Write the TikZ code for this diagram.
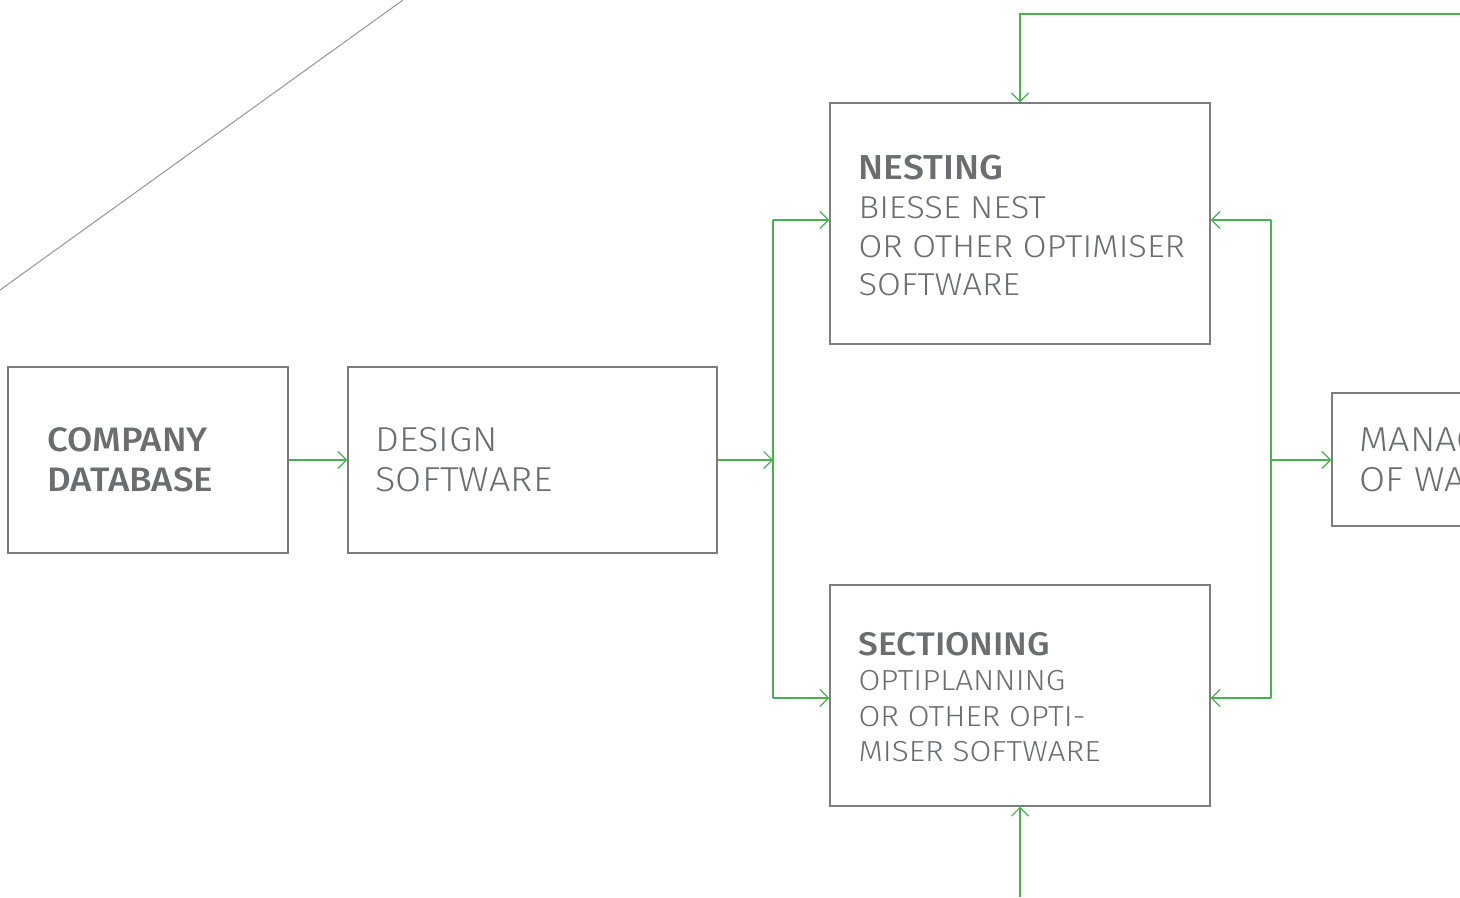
\documentclass[tikz,border=0pt]{standalone}
\usepackage{fontspec}
\newfontfamily\lightfont{Fira Sans Light}[FakeStretch=1.09]
\newfontfamily\headfont{Fira Sans Medium}[FakeStretch=1.08]
\usetikzlibrary{positioning,arrows.meta}
\definecolor{box edge}{RGB}{125,125,125}
\definecolor{box text}{RGB}{108,109,112}
\definecolor{flow green}{RGB}{72,178,80}
\colorlet{slash line}{black!40}
\tikzset{box/.style={draw=box edge, line width=0.85pt, inner sep=0pt},
    caption/.style={inner sep=0pt, align=left, text=box text},
    flow/.style={draw=flow green, line width=0.7pt,
        -{Straight Barb[length=0.17cm, width=0.34cm, line width=0.7pt]}},
    bus/.style={draw=flow green, line width=0.7pt}}
\def\bigtxt{\lightfont\fontsize{19.7}{22.7}\selectfont}
\def\midtxt{\lightfont\fontsize{18}{21.8}\selectfont}
\def\smalltxt{\lightfont\fontsize{16.5}{20.1}\selectfont}

\begin{document}
\begin{tikzpicture}[x=0.02cm,y=-0.02cm]
  \useasboundingbox (0,0) rectangle (1460,897);
  \clip (0,0) rectangle (1460,897);

  % boxes
  \node[box, minimum width=5.6cm, minimum height=3.72cm] (company) at (148,460) {};
  \node[box, minimum width=7.38cm, minimum height=3.72cm] (design) at (532.5,460) {};
  \node[box, minimum width=7.6cm, minimum height=4.82cm] (nest) at (1020,223.5) {};
  \node[box, minimum width=7.6cm, minimum height=4.42cm] (sect) at (1020,695.5) {};
  \node[box, minimum width=5.6cm, minimum height=2.66cm] (manage) at (1472,459.5) {};

  % texts
  \node[caption, font=\headfont\fontsize{19.3}{22.7}\selectfont,
    right=0.8cm of company.west] (companytxt) {COMPANY\\DATABASE};
  \node[caption, font=\bigtxt, right=0.56cm of design.west] (designtxt)
    {DESIGN\\SOFTWARE};
  \node[caption, font=\midtxt, right=0.58cm of nest.west, yshift=-0.04cm] (nesttxt)
    {{\headfont\fontsize{19.7}{22.7}\selectfont NESTING}\\[0.5pt]
     BIESSE NEST\\OR OTHER OPTIMISER\\SOFTWARE};
  \node[caption, font=\smalltxt, right=0.58cm of sect.west, yshift=-0.03cm] (secttxt)
    {{\headfont\fontsize{18.6}{21}\selectfont SECTIONING}\\
     OPTIPLANNING\\OR OTHER OPTI-\\MISER SOFTWARE};
  \node[caption, font=\bigtxt, right=0.56cm of manage.west] (managetxt)
    {MANAGEMENT\\OF WASTE};

  % bus points
  \coordinate (lmid) at (773,460);
  \coordinate (ltop) at (773,220);
  \coordinate (lbot) at (773,698);
  \coordinate (rmid) at (1271,460);
  \coordinate (rtop) at (1271,220);
  \coordinate (rbot) at (1271,698);
  \coordinate (topin) at (1460,14);
  \coordinate (botin) at (1020,897);

  % connectors
  \draw[flow] (company.east) -- (design.west);
  \draw[flow] (design.east) -- (lmid);
  \draw[bus] (ltop) -- (lbot);
  \draw[flow] (ltop) -- (ltop -| nest.west);
  \draw[flow] (lbot) -- (lbot -| sect.west);
  \draw[bus] (rtop) -- (rbot);
  \draw[flow] (rtop) -- (rtop -| nest.east);
  \draw[flow] (rbot) -- (rbot -| sect.east);
  \draw[flow] (rmid) -- (rmid -| manage.west);
  \draw[flow] (topin) -| (nest.north);
  \draw[flow] (botin) -- (sect.south);

  \draw[slash line, line width=0.6pt] (0,290) -- (403,0);
\end{tikzpicture}
\end{document}
